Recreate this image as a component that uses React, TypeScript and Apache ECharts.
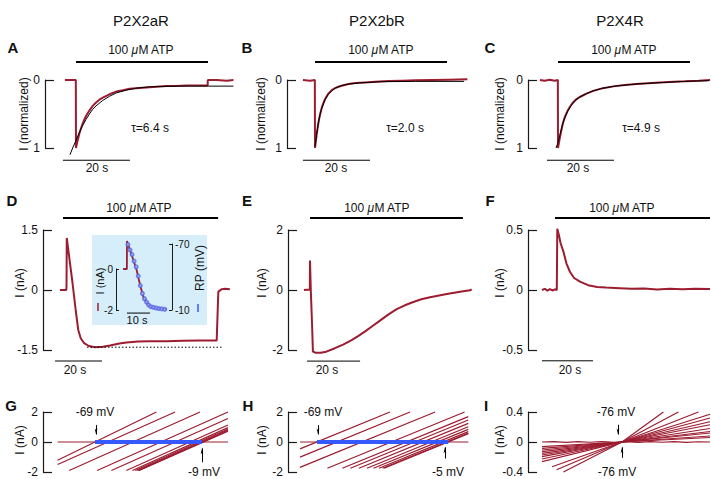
import React, { useEffect, useRef } from "react";
import * as echarts from "echarts";

const FONT = "'Liberation Sans', Arial, Helvetica, sans-serif";
const RED = "#9c1c30";
const BLUE = "#3558ff";
const INK = "#111111";

// ---------------- data ----------------
// Row 1: normalized currents, time in s
const aTrace: number[][] = [[-3.3,0],[-0.05,0],[0,1.0],[0.3,0.93],[0.7,0.85],[1,0.79],[1.5,0.71],[2,0.64],[2.5,0.58],[3,0.53],[4,0.45],[5,0.38],[6,0.33],[7,0.29],[8,0.26],[10,0.21],[12,0.17],[14,0.15],[16,0.13],[18,0.12],[21,0.11],[24,0.1],[27,0.09],[30,0.09],[33,0.08],[36,0.08],[39.3,0.08],[39.35,0],[42,0],[45,0.01],[47,0]];
const aFit: number[][] = [[-1.8,1.1],[-1,1.0],[0,0.89],[1,0.77],[2,0.67],[3,0.58],[4,0.5],[5,0.43],[6,0.38],[8,0.3],[10,0.24],[12,0.19],[15,0.15],[18,0.12],[22,0.1],[26,0.095],[30,0.09],[35,0.09],[40,0.09],[47,0.09]];
const bTrace: number[][] = [[-3.6,0],[-1.5,0.01],[-0.05,0],[0,1.0],[0.2,0.92],[0.5,0.8],[0.8,0.7],[1.2,0.58],[1.6,0.49],[2,0.41],[2.5,0.34],[3,0.28],[3.5,0.24],[4,0.2],[5,0.15],[6,0.12],[7,0.1],[8,0.085],[10,0.06],[12,0.045],[15,0.035],[18,0.025],[22,0.015],[26,0.01],[30,0.005],[35,0],[40,-0.005],[45.5,-0.01]];
const bFit: number[][] = [[0,0.98],[0.5,0.79],[1,0.63],[1.5,0.51],[2,0.42],[3,0.29],[4,0.21],[5,0.16],[6,0.12],[8,0.08],[10,0.06],[14,0.04],[20,0.025],[30,0.02],[44.5,0.02]];
const cTrace: number[][] = [[-5.4,0],[-4,0.01],[-2.5,-0.005],[-1,0.01],[-0.05,0],[0,1.0],[0.5,0.86],[1,0.74],[1.5,0.63],[2,0.55],[2.5,0.49],[3,0.44],[3.6,0.39],[4.5,0.33],[5.5,0.28],[6.5,0.25],[8.5,0.2],[10.5,0.16],[13.4,0.12],[17,0.09],[20,0.075],[23.4,0.06],[28,0.045],[33,0.03],[38,0.02],[42,0.01],[45.4,0.0]];
const cFit: number[][] = [[-0.6,1.0],[0,0.92],[0.5,0.82],[1,0.72],[1.5,0.63],[2,0.56],[3,0.45],[4,0.37],[5,0.31],[6.5,0.25],[8.5,0.2],[10.5,0.16],[13.4,0.12],[17,0.09],[23,0.06],[30,0.04],[38,0.02],[45,0.01]];

// Row 2: currents in nA, time in s
const dTrace: number[][] = [[-1.3,0],[1.4,0],[1.5,0.1],[1.6,1.3],[4,0.2],[5.5,-0.55],[6.5,-1.0],[7.5,-1.2],[9,-1.33],[11,-1.4],[13.6,-1.43],[17,-1.42],[20,-1.39],[24,-1.34],[27,-1.31],[32,-1.29],[37,-1.28],[44,-1.28],[51,-1.27],[58,-1.26],[65.4,-1.26],[66.1,-0.04],[67.5,0.02],[69,0.03],[71,0.02]];
const dPeakLevel: number[][] = [[10.2,-1.43],[67.7,-1.43]];
const dInsetCurrent: number[][] = [[-1.7,0],[-0.05,0],[0,1.37],[1.3,0.93],[2,0.7],[3,0.35],[4.2,-0.05],[5,-0.45],[6,-0.9],[7.1,-1.35],[8.6,-1.66],[9.3,-1.76],[10,-1.84],[12.9,-1.92],[17.3,-1.97]];
const dInsetTime = [0.4,1.3,2.2,3.1,4.0,4.9,5.8,6.7,7.6,8.5,9.4,10.4,11.5,12.7,13.9,15.1,16.4];
const dInsetRP = [-69.5,-64.6,-60.4,-54.5,-49.2,-40.8,-32.2,-25,-20.2,-17.2,-14.6,-13,-12.4,-11.8,-11.3,-11,-10.7];
const eTrace: number[][] = [[-2.3,0],[-0.3,0.02],[-0.05,0],[0,0.98],[0.3,0.0],[0.8,-1.2],[1.1,-2.05],[2,-2.09],[4,-2.09],[5.7,-2.07],[9.4,-1.94],[12.5,-1.82],[15.7,-1.67],[18.3,-1.53],[20.8,-1.38],[23.6,-1.2],[26.4,-1.02],[29.5,-0.82],[32.7,-0.64],[35.8,-0.51],[39,-0.4],[42,-0.31],[45.3,-0.24],[51.6,-0.13],[57.8,-0.04],[60.4,-0.01],[61,0.02]];
const fTrace: number[][] = [[-5.1,0],[-4,0.01],[-3,-0.005],[-2,0.008],[-1,-0.004],[0,0.006],[0.7,0],[0.9,0.51],[1.5,0.46],[2.2,0.39],[3.3,0.32],[4.5,0.22],[5.9,0.15],[7.5,0.1],[9.8,0.07],[13,0.04],[16.5,0.025],[20,0.02],[25.5,0.015],[30,0.01],[35,0.012],[40,0.005],[45,0.01],[50,0.006],[55,0.01],[60.8,0.008]];

// ATP application (s) and scale bars (s)
const atpEnd = [39.4, 39.4, 39.4, 66, 57.7, 60.8];
const scaleStart = [-3.9, -3.6, -3.3, -3.4, -1.1, -5.1];
const scaleLen = 20;
const insetScaleLen = 10;

// Row 3: ramp I-V lines [V1 (mV), I1 (nA), V2, I2]
const gLines: number[][] = [[-90,-1.22,-34.5,2.0],[-90,-1.5,-24,2.0],[-83.5,-1.9,-10,2.0],[-67.8,-1.9,5.7,2.0],[-59.8,-1.9,5.7,1.57],[-51.4,-1.9,5.7,1.13],[-48,-1.9,5.7,0.96],[-46.4,-1.9,5.7,0.87],[-45.2,-1.9,5.7,0.8],[-44.6,-1.9,5.7,0.75],[-44.2,-1.9,5.7,0.72]];
const gBase: number[][] = [[-90,0],[5.7,0]];
const hLines: number[][] = [[-77.3,-0.46,-33.4,2.0],[-77.3,-1.01,-23.6,2.0],[-77.3,-1.69,-11.4,2.0],[-63.95,-1.75,3.0,2.0],[-56.65,-1.75,4.8,1.69],[-52.75,-1.75,4.8,1.47],[-48.55,-1.75,4.8,1.24],[-44.65,-1.75,4.8,1.02],[-41.45,-1.75,4.8,0.84],[-38.75,-1.75,4.8,0.69],[-37.05,-1.75,4.8,0.59],[-36.25,-1.75,4.8,0.55]];
const hBase: number[][] = [[-77.3,0],[4.8,0]];
// [V left, I left, V cross, I cross, V right, I right]
const iLines: number[][] = [[-116,-0.062,-76,0,-32,0.06],[-116,-0.084,-76,0,-32,0.08],[-116,-0.107,-76,0,-32,0.12],[-116,-0.129,-76,0,-32,0.14],[-116,-0.151,-76,0,-32,0.18],[-116,-0.173,-76,0,-32,0.23],[-116,-0.196,-76,0,-32,0.27],[-116,-0.227,-76,0,-32,0.32],[-116,-0.262,-76,0,-32,0.37],[-111,-0.33,-76,0,-37.8,0.4],[-108.7,-0.37,-76,0,-47.8,0.4],[-105.3,-0.4,-76,0,-55.3,0.4]];
const iBase: number[][] = [[-116,0],[-110,0.005],[-104,-0.004],[-98,0.006],[-92,-0.003],[-86,0.004],[-80,-0.005],[-74,0.003],[-68,-0.004],[-62,0.005],[-56,-0.003],[-50,0.004],[-44,-0.005],[-38,0.003],[-32,0]];
// reversal potential shifts (mV)
const gShift = [-69, -9];
const hShift = [-69, -5];
const iRev = -76;

// ---------------- layout ----------------
const GRIDS = [
  [45, 80, 195, 68], [287, 80, 190, 68], [528, 80, 183, 68],
  [43, 230, 192, 120], [116, 269, 56, 41], [116, 244, 56, 66],
  [288, 230, 187, 120], [528, 230, 183, 120],
  [43, 412, 187, 60], [288, 412, 182, 60], [528, 412, 183, 60],
];
const XRANGE = [[-9.25,48.96],[-8.36,48.36],[-8.96,45.67],[-8.51,73.19],[-4.78,19.57],[-4.78,19.57],[-8.3,62.26],[-10.59,61.18],[-98.2,6.84],[-83.15,5.63],[-123,-31.5]];
const ATP_LEVEL = [-0.265, -0.265, -0.265, 1.8, 2.4, 0.6];
const SCALE_LEVEL = [1.18, 1.18, 1.18, -1.775, -2.37, -0.59];
const TRACE_AX = [0, 1, 2, 3, 6, 7];

const axisStyle = { color: "#1a1a1a", width: 1.2 };

function yAx(gridIndex: number, min: number, max: number, interval: number, extra: any = {}) {
  return {
    type: "value", gridIndex, min, max, interval, position: "left",
    axisLine: { show: true, onZero: false, lineStyle: axisStyle },
    axisTick: { show: true, inside: true, length: 9, lineStyle: axisStyle },
    axisLabel: { show: true, margin: 5, fontSize: 12, color: INK, fontFamily: FONT },
    splitLine: { show: false },
    ...extra,
  };
}

function ln(ax: number, data: any[], color: string, width: number, extra: any = {}) {
  return {
    type: "line", xAxisIndex: ax, yAxisIndex: ax, data, symbol: "none", showSymbol: false,
    clip: false, silent: true, z: 3,
    lineStyle: { color, width, ...(extra.lineStyle || {}) }, itemStyle: { color },
    ...Object.fromEntries(Object.entries(extra).filter(([k]) => k !== "lineStyle")),
  };
}

function arrows(ax: number, segs: number[][], color: string, width: number, size: number) {
  return {
    type: "line", xAxisIndex: ax, yAxisIndex: ax, data: [], symbol: "none", silent: true, z: 5,
    markLine: {
      silent: true, symbol: ["none", "arrow"], symbolSize: [2, size], label: { show: false },
      lineStyle: { color, width, type: "solid" }, animation: false,
      data: segs.map((s) => [{ coord: [s[0], s[1]] }, { coord: [s[2], s[3]] }]),
    },
  };
}

function txt(x: number, y: number, text: string, size = 12, extra: any = {}, rot = 0) {
  return {
    type: "text", x, y, rotation: rot, silent: true, z: 10,
    style: {
      text, fontSize: size, fontFamily: FONT, fill: INK,
      align: "center", verticalAlign: "middle", textAlign: "center", textVerticalAlign: "middle",
      ...extra,
    },
  };
}

function atpText(x: number, y: number) {
  return {
    type: "text", x, y, silent: true, z: 10,
    style: {
      text: "{n|100 }{i|μ}{n|M ATP}",
      rich: {
        n: { fontSize: 12, fontFamily: FONT, fill: INK, color: INK },
        i: { fontSize: 12, fontFamily: FONT, fontStyle: "italic", fill: INK, color: INK },
      },
      align: "center", verticalAlign: "middle", textAlign: "center", textVerticalAlign: "middle",
    },
  };
}

function buildOption() {
  const yAxis = [
    yAx(0, 0, 1, 1, { inverse: true }),
    yAx(1, 0, 1, 1, { inverse: true }),
    yAx(2, 0, 1, 1, { inverse: true }),
    yAx(3, -1.5, 1.5, 1.5),
    yAx(4, -2, 0, 2, {
      axisTick: { show: true, inside: true, length: 3, lineStyle: { color: "#1a1a1a", width: 1 } },
      axisLine: { show: true, onZero: false, lineStyle: { color: "#1a1a1a", width: 1 } },
      axisLabel: { show: true, margin: 3, fontSize: 10, color: INK, fontFamily: FONT },
    }),
    {
      type: "value", gridIndex: 5, min: -70, max: -10, inverse: true, position: "right",
      axisLine: { show: true, onZero: false, lineStyle: { color: "#1a1a1a", width: 1 } },
      axisTick: { show: true, inside: true, length: 3, customValues: [-70, -10], lineStyle: { color: "#1a1a1a", width: 1 } },
      axisLabel: { show: true, margin: 3, fontSize: 10, color: INK, fontFamily: FONT, customValues: [-70, -10] },
      splitLine: { show: false },
    },
    yAx(6, -2, 2, 2),
    yAx(7, -0.5, 0.5, 0.5),
    yAx(8, -2, 2, 2),
    yAx(9, -2, 2, 2),
    yAx(10, -0.4, 0.4, 0.4),
  ];

  const series: any[] = [];
  series.push(ln(0, aTrace, RED, 2));
  series.push(ln(0, aFit, "#000", 1, { z: 4 }));
  series.push(ln(1, bTrace, RED, 2));
  series.push(ln(1, bFit, "#000", 1, { z: 4 }));
  series.push(ln(2, cTrace, RED, 2));
  series.push(ln(2, cFit, "#000", 1, { z: 4 }));
  series.push(ln(3, dTrace, RED, 2));
  series.push(ln(3, dPeakLevel, "#000", 1, { lineStyle: { type: [1.5, 2] } }));
  series.push(ln(4, dInsetCurrent, RED, 1.8));
  series.push({
    type: "scatter", xAxisIndex: 5, yAxisIndex: 5, silent: true, z: 5,
    data: dInsetTime.map((t, i) => [t, dInsetRP[i]]),
    symbol: "emptyCircle", symbolSize: 3,
    itemStyle: { color: "#5566e6", borderColor: "#5566e6", borderWidth: 0.7 },
  });
  series.push(ln(6, eTrace, RED, 2));
  series.push(ln(7, fTrace, RED, 2));

  TRACE_AX.forEach((ax, k) => {
    series.push(ln(ax, [[0, ATP_LEVEL[k]], [atpEnd[k], ATP_LEVEL[k]]], "#000", 2));
    series.push(ln(ax, [[scaleStart[k], SCALE_LEVEL[k]], [scaleStart[k] + scaleLen, SCALE_LEVEL[k]]], "#000", 1));
  });
  series.push(ln(4, [[0, -2.15], [insetScaleLen, -2.15]], "#000", 1));

  series.push(ln(8, gBase, RED, 1));
  gLines.forEach((l) => series.push(ln(8, [[l[0], l[1]], [l[2], l[3]]], RED, 1.2)));
  series.push(ln(9, hBase, RED, 1));
  hLines.forEach((l) => series.push(ln(9, [[l[0], l[1]], [l[2], l[3]]], RED, 1.2)));
  series.push(ln(10, iBase, RED, 1.2));
  iLines.forEach((l) => series.push(ln(10, [[l[0], l[1]], [l[2], l[3]], [l[4], l[5]]], RED, 1.2)));

  series.push(arrows(8, [[gShift[0], 0, gShift[1], 0]], BLUE, 4, 13));
  series.push(arrows(9, [[hShift[0], 0, hShift[1], 0]], BLUE, 4, 13));
  series.push(arrows(8, [[gShift[0] + 0.6, 1.13, gShift[0] + 0.6, 0.5], [gShift[1] + 0.1, -1.35, gShift[1] + 0.1, -0.42]], "#000", 1, 6));
  series.push(arrows(9, [[hShift[0] + 0.5, 1.13, hShift[0] + 0.5, 0.5], [hShift[1] - 1.6, -1.1, hShift[1] - 1.6, -0.35]], "#000", 1, 6));
  series.push(arrows(10, [[iRev - 2, 0.23, iRev - 2, 0.1], [iRev, -0.21, iRev, -0.07]], "#000", 1, 6));

  const graphic: any[] = [
    { type: "rect", z: -5, silent: true, shape: { x: 92, y: 235, width: 115, height: 90 }, style: { fill: "#d5eefa" } },
    txt(141, 20, "P2X2aR", 15), txt(377, 20, "P2X2bR", 15), txt(620, 20, "P2X4R", 15),
    ...[["A", 13, 47], ["B", 247, 47], ["C", 490, 47], ["D", 12, 200], ["E", 247, 200], ["F", 490, 200], ["G", 11, 405], ["H", 248, 405], ["I", 486, 405]]
      .map(([s, x, y]) => txt(x as number, y as number, s as string, 15, { fontWeight: "bold" })),
    atpText(141, 50), atpText(381, 50), atpText(624, 50),
    atpText(139, 208), atpText(377, 208), atpText(622, 208),
    txt(150, 128, "τ=6.4 s"), txt(405, 128, "τ=2.0 s"), txt(641, 128, "τ=4.9 s"),
    txt(97, 168, "20 s"), txt(336, 168, "20 s"), txt(578, 168, "20 s"),
    txt(75, 370, "20 s"), txt(327, 370, "20 s"), txt(570, 370, "20 s"),
    txt(137, 320, "10 s", 11),
    txt(24, 114, "I (normalized)", 12, {}, Math.PI / 2),
    txt(261, 114, "I (normalized)", 12, {}, Math.PI / 2),
    txt(500, 114, "I (normalized)", 12, {}, Math.PI / 2),
    txt(20, 283, "I (nA)", 12, {}, Math.PI / 2),
    txt(262, 283, "I (nA)", 12, {}, Math.PI / 2),
    txt(500, 283, "I (nA)", 12, {}, Math.PI / 2),
    txt(20, 440, "I (nA)", 12, {}, Math.PI / 2),
    txt(262, 440, "I (nA)", 12, {}, Math.PI / 2),
    txt(500, 440, "I (nA)", 12, {}, Math.PI / 2),
    txt(100, 281, "I (nA)", 11, {}, Math.PI / 2),
    txt(200, 268, "RP (mV)", 12, {}, Math.PI / 2),
    { type: "line", silent: true, z: 10, shape: { x1: 98, y1: 303, x2: 98, y2: 311 }, style: { stroke: RED, lineWidth: 1.5 } },
    { type: "line", silent: true, z: 10, shape: { x1: 198, y1: 304, x2: 198, y2: 312 }, style: { stroke: BLUE, lineWidth: 1.5 } },
    txt(95, 412, "-69 mV"), txt(204, 472, "-9 mV"),
    txt(323, 412, "-69 mV"), txt(448, 472, "-5 mV"),
    txt(616, 412, "-76 mV"), txt(617, 472, "-76 mV"),
  ];

  return {
    animation: false,
    backgroundColor: "#ffffff",
    textStyle: { fontFamily: FONT },
    grid: GRIDS.map((g) => ({ left: g[0], top: g[1], width: g[2], height: g[3], containLabel: false })),
    xAxis: XRANGE.map((r, i) => ({ type: "value", gridIndex: i, min: r[0], max: r[1], show: false })),
    yAxis,
    series,
    graphic: { elements: graphic },
  };
}

export default function App() {
  const ref = useRef<HTMLDivElement>(null);
  useEffect(() => {
    document.body.style.margin = "0";
    const chart = echarts.init(ref.current!, null, { renderer: "svg" });
    chart.setOption(buildOption() as any);
    return () => chart.dispose();
  }, []);
  return <div ref={ref} style={{ width: 711, height: 479 }} />;
}
